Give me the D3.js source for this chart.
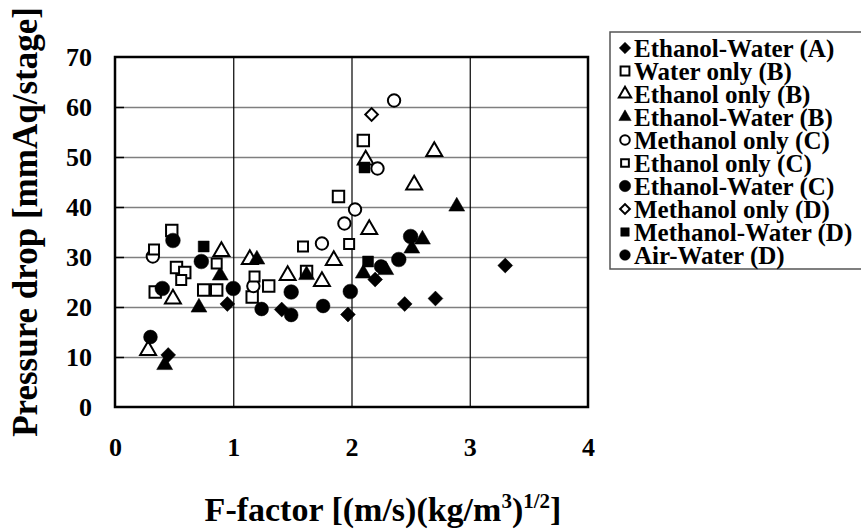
<!DOCTYPE html>
<html>
<head>
<meta charset="utf-8">
<script src="https://cdn.jsdelivr.net/npm/d3@7"></script>
<style>
  body { margin: 0; background: #fff; }
  text { font-family: "Liberation Serif", "Times New Roman", serif; font-weight: bold; fill: #000; }
</style>
</head>
<body>
<svg id="chart"></svg>
<script>
// F-factor vs pressure drop, one array per data set
const ethanolWaterA = [[0.45, 10.4], [0.95, 20.6], [1.41, 19.5], [1.97, 18.5], [2.2, 25.5], [2.45, 20.6], [2.71, 21.7], [3.3, 28.3]];
const waterOnlyB = [[0.48, 35.3], [0.34, 23.0], [0.52, 27.9], [0.59, 26.9], [0.75, 23.4], [0.86, 23.4], [1.16, 22.0], [1.3, 24.2], [1.62, 27.1], [1.89, 42.1], [2.1, 53.3]];
const ethanolOnlyB = [[0.28, 11.3], [0.49, 21.6], [0.9, 31.1], [1.14, 29.5], [1.46, 26.3], [1.75, 25.1], [1.85, 29.3], [2.15, 35.5], [2.12, 49.4], [2.53, 44.4], [2.7, 51.1]];
const ethanolWaterB = [[0.42, 8.4], [0.71, 19.9], [0.89, 26.3], [1.2, 29.5], [1.62, 26.4], [2.1, 26.7], [2.29, 27.4], [2.51, 31.7], [2.6, 33.5], [2.89, 40.1]];
const methanolOnlyC = [[0.32, 30.1], [1.17, 24.2], [1.75, 32.7], [1.94, 36.7], [2.03, 39.5], [2.22, 47.7], [2.36, 61.3]];
const ethanolOnlyC = [[0.33, 31.5], [0.56, 25.4], [0.86, 28.7], [1.18, 26.1], [1.59, 32.1], [1.98, 32.6]];
const ethanolWaterC = [[0.49, 33.3], [0.4, 23.7], [0.73, 29.1], [1.0, 23.7], [1.49, 23.0], [1.99, 23.1], [2.4, 29.5], [2.5, 34.1]];
const methanolOnlyD = [[2.17, 58.5]];
const methanolWaterD = [[0.75, 32.1], [2.11, 47.9], [2.14, 29.1]];
const airWaterD = [[0.3, 14.0], [1.24, 19.6], [1.49, 18.4], [1.76, 20.2], [2.25, 28.1]];

const xTicks = [0, 1, 2, 3, 4];
const yTicks = [0, 10, 20, 30, 40, 50, 60, 70];

// marker styles: shape, area, filled
const series = [
  { name: "Ethanol-Water (A)", data: ethanolWaterA, shape: "diamond", size: 110, filled: true },
  { name: "Water only (B)", data: waterOnlyB, shape: "square", size: 130, filled: false },
  { name: "Ethanol only (B)", data: ethanolOnlyB, shape: "triangle", size: 110, filled: false },
  { name: "Ethanol-Water (B)", data: ethanolWaterB, shape: "triangle", size: 110, filled: true },
  { name: "Methanol only (C)", data: methanolOnlyC, shape: "circle", size: 120, filled: false },
  { name: "Ethanol only (C)", data: ethanolOnlyC, shape: "square", size: 100, filled: false },
  { name: "Ethanol-Water (C)", data: ethanolWaterC, shape: "circle", size: 170, filled: true },
  { name: "Methanol only (D)", data: methanolOnlyD, shape: "diamond", size: 80, filled: false },
  { name: "Methanol-Water (D)", data: methanolWaterD, shape: "square", size: 120, filled: true },
  { name: "Air-Water (D)", data: airWaterD, shape: "circle", size: 150, filled: true },
];

const width = 861, height = 529;
const margin = { top: 57, right: 273, bottom: 122, left: 115 };

const svg = d3.select("#chart").attr("width", width).attr("height", height);
svg.append("rect").attr("width", width).attr("height", height).attr("fill", "#fff");

const x = d3.scaleLinear().domain([0, 4]).range([margin.left, width - margin.right]);
const y = d3.scaleLinear().domain([0, 70]).range([height - margin.bottom, margin.top]);

const symbolType = {
  diamond: d3.symbolSquare,
  square: d3.symbolSquare,
  triangle: d3.symbolTriangle,
  circle: d3.symbolCircle,
};

function marker(sel, s) {
  sel.attr("d", d3.symbol().type(symbolType[s.shape]).size(s.size)())
    .attr("fill", s.filled ? "#000" : "#fff")
    .attr("stroke", "#000")
    .attr("stroke-width", s.filled ? 0.5 : 2);
}

// horizontal grid (grey) and vertical grid (black)
svg.append("g")
  .attr("transform", `translate(${x(0)},0)`)
  .call(d3.axisLeft(y).tickValues(yTicks.slice(1, -1)).tickSize(-(x(4) - x(0))).tickFormat(""))
  .call((g) => g.select(".domain").remove())
  .selectAll("line").attr("stroke", "#7f7f7f").attr("stroke-width", 1.5);

// small inner ticks on the left edge
svg.append("g")
  .attr("transform", `translate(${x(0)},0)`)
  .call(d3.axisRight(y).tickValues(yTicks.slice(1, -1)).tickSize(9).tickFormat(""))
  .call((g) => g.select(".domain").remove())
  .selectAll("line").attr("stroke", "#000").attr("stroke-width", 1.5);

svg.append("g")
  .attr("transform", `translate(0,${y(0)})`)
  .call(d3.axisBottom(x).tickValues(xTicks.slice(1, -1)).tickSize(-(y(0) - y(70))).tickFormat(""))
  .call((g) => g.select(".domain").remove())
  .selectAll("line").attr("stroke", "#000").attr("stroke-width", 1.2);

// frame
svg.append("rect")
  .attr("x", x(0)).attr("y", y(70))
  .attr("width", x(4) - x(0)).attr("height", y(0) - y(70))
  .attr("fill", "none").attr("stroke", "#000").attr("stroke-width", 2.5);

// tick labels
const yAxisG = svg.append("g")
  .attr("transform", `translate(${x(0) - 23},0)`)
  .call(d3.axisLeft(y).tickValues(yTicks).tickSize(0).tickFormat(d3.format("d")));
yAxisG.select(".domain").remove();
yAxisG.selectAll("text").style("font-size", "26px").attr("x", 0).attr("dy", "0.34em")
  .style("font-family", "'Liberation Serif', serif").style("font-weight", "bold");

const xAxisG = svg.append("g")
  .attr("transform", `translate(0,${y(0) + 40})`)
  .call(d3.axisBottom(x).tickValues(xTicks).tickSize(0).tickFormat(d3.format("d")));
xAxisG.select(".domain").remove();
xAxisG.selectAll("text").style("font-size", "26px").attr("y", 0).attr("dy", "0.34em")
  .style("font-family", "'Liberation Serif', serif").style("font-weight", "bold");

// points
for (const s of series) {
  svg.append("g")
    .selectAll("path")
    .data(s.data)
    .join("path")
    .call(marker, s)
    .attr("transform", (d) => `translate(${x(d[0])},${y(d[1])})` + (s.shape === "diamond" ? " rotate(45)" : ""));
}

// axis titles
svg.append("text")
  .attr("transform", `translate(37,222) rotate(-90)`)
  .attr("text-anchor", "middle")
  .style("font-size", "35px")
  .text("Pressure drop [mmAq/stage]");

const xTitle = svg.append("text")
  .attr("x", 383).attr("y", 521)
  .attr("text-anchor", "middle")
  .style("font-size", "34px");
xTitle.append("tspan").text("F-factor [(m/s)(kg/m");
xTitle.append("tspan").attr("dy", -13).style("font-size", "21px").text("3");
xTitle.append("tspan").attr("dy", 13).text(")");
xTitle.append("tspan").attr("dy", -13).style("font-size", "21px").text("1/2");
xTitle.append("tspan").attr("dy", 13).text("]");

// legend
const legend = svg.append("g").attr("transform", "translate(610,32)");
legend.append("rect")
  .attr("width", 262).attr("height", 237)
  .attr("fill", "#fff").attr("stroke", "#555").attr("stroke-width", 1.5);

const rows = legend.selectAll(".row")
  .data(series)
  .join("g")
  .attr("class", "row")
  .attr("transform", (d, i) => `translate(15,${16 + i * 23})`);

rows.append("path")
  .each(function (s) {
    const small = Object.assign({}, s, { size: s.size * 0.6 });
    d3.select(this).call(marker, small);
  })
  .attr("transform", (s) => (s.shape === "diamond" ? "rotate(45)" : ""));

rows.append("text")
  .attr("x", 9)
  .attr("dy", "0.36em")
  .style("font-size", "25px")
  .text((s) => s.name);
</script>
</body>
</html>
